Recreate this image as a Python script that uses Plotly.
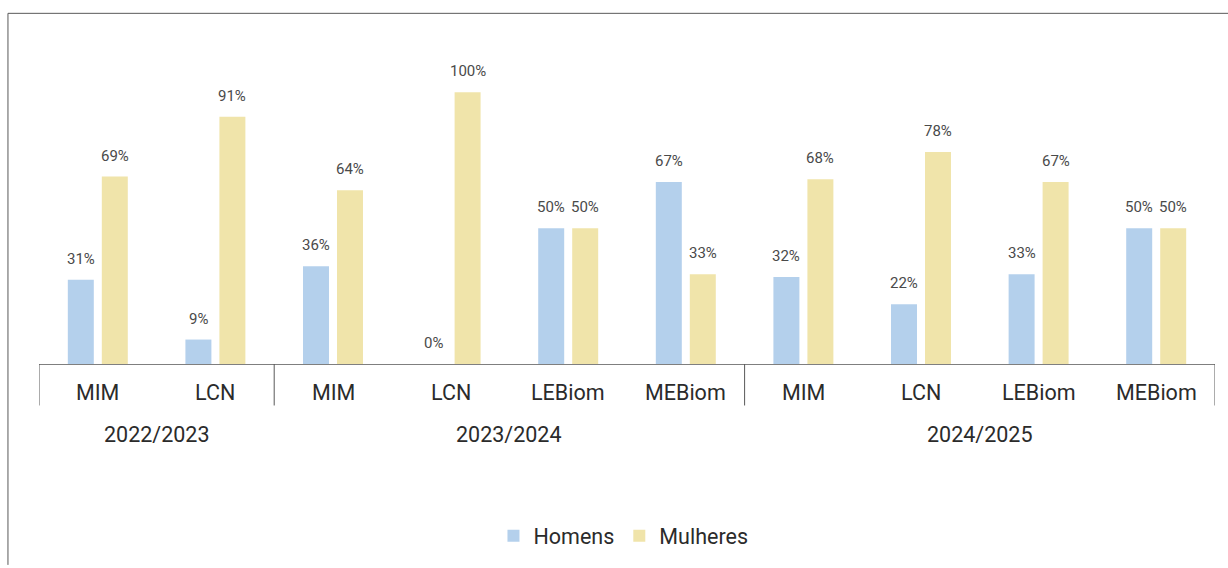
import plotly.graph_objects as go

# Academic years and the programmes offered in each
years = ["2022/2023", "2023/2024", "2024/2025"]
courses = [
    ["MIM", "LCN"],
    ["MIM", "LCN", "LEBiom", "MEBiom"],
    ["MIM", "LCN", "LEBiom", "MEBiom"],
]

# Share of students by gender (%)
homens = [31, 9, 36, 0, 50, 67, 32, 22, 33, 50]
mulheres = [69, 91, 64, 100, 50, 33, 68, 78, 67, 50]

BLUE = "#b4d0ec"
YELLOW = "#f0e4aa"
TEXT = "#4a4a4a"
DARK = "#2b2b2b"
FONT = "Roboto, Arial, sans-serif"

labels = [c for grp in courses for c in grp]
xs = list(range(len(labels)))

BAR_W = 0.221
OFF_H = -0.255
OFF_M = 0.034

fig = go.Figure()
fig.add_trace(go.Bar(name="Homens", x=xs, y=homens, width=BAR_W, offset=OFF_H,
                     marker=dict(color=BLUE, line=dict(width=0))))
fig.add_trace(go.Bar(name="Mulheres", x=xs, y=mulheres, width=BAR_W, offset=OFF_M,
                     marker=dict(color=YELLOW, line=dict(width=0))))

annotations = []
# value labels above each bar
for series, off in ((homens, OFF_H), (mulheres, OFF_M)):
    for x, v in zip(xs, series):
        annotations.append(dict(
            x=x + off + BAR_W / 2, y=v, xref="x", yref="y",
            text=f"{v}%", showarrow=False, yshift=21, yanchor="middle",
            font=dict(family=FONT, size=15, color=TEXT)))

# programme labels (first level of the category axis)
for x, lab in zip(xs, labels):
    annotations.append(dict(
        x=x, y=-0.087, xref="x", yref="paper", text=lab, showarrow=False,
        yanchor="middle", font=dict(family=FONT, size=21.5, color=DARK)))

# year labels and dividers (second level)
shapes = []
start = 0
bounds = [-0.5]
for yr, grp in zip(years, courses):
    end = start + len(grp)
    annotations.append(dict(
        x=(start + end - 1) / 2, y=-0.218, xref="x", yref="paper", text=yr,
        showarrow=False, yanchor="middle",
        font=dict(family=FONT, size=21.5, color=DARK)))
    bounds.append(end - 0.5)
    start = end
for b in bounds:
    shapes.append(dict(type="line", xref="x", yref="paper", x0=b, x1=b,
                       y0=0, y1=-0.128, line=dict(color="#595959", width=1)))

# outer frame of the chart
shapes.append(dict(type="line", xref="paper", yref="paper",
                   x0=-0.0264, x1=1.02, y0=1.0823, y1=1.0823,
                   line=dict(color="#595959", width=1)))
shapes.append(dict(type="line", xref="paper", yref="paper",
                   x0=-0.0264, x1=-0.0264, y0=1.0823, y1=-0.62,
                   line=dict(color="#595959", width=1)))

fig.update_layout(
    width=1228, height=568,
    margin=dict(l=39, r=13, t=40, b=200),
    paper_bgcolor="white", plot_bgcolor="white",
    barmode="overlay",
    showlegend=True,
    legend=dict(orientation="h", x=0.497, xanchor="center", y=-0.53,
                yanchor="middle", font=dict(family=FONT, size=21.5, color=DARK),
                itemclick=False),
    xaxis=dict(range=[-0.5, len(labels) - 0.5], showticklabels=False,
               showgrid=False, zeroline=False, showline=True,
               linecolor="#7f7f7f", linewidth=1, ticks=""),
    yaxis=dict(range=[0, 119.27], visible=False),
    annotations=annotations,
    shapes=shapes,
    font=dict(family=FONT),
)

fig.write_html("out.html")
